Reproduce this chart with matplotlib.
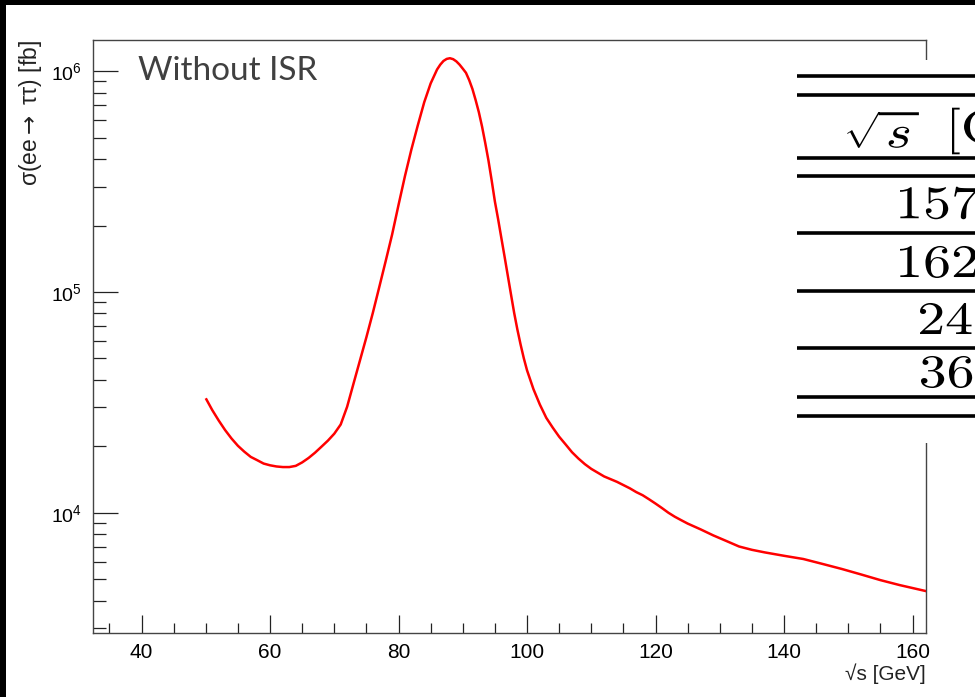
import numpy as np
import matplotlib
matplotlib.use("Agg")
import matplotlib.pyplot as plt
from matplotlib.patches import Rectangle, PathPatch
from matplotlib.ticker import MultipleLocator, LogLocator, NullFormatter
from matplotlib.textpath import TextPath
from matplotlib.font_manager import FontProperties
from matplotlib.transforms import Affine2D

# sqrt(s) [GeV] and cross section [fb]
sqrt_s = [50, 51, 52, 53, 54, 55, 56, 57, 58, 59, 60, 61, 62, 63, 64, 65, 66,
          67, 68, 69, 70, 71, 72, 73, 74, 75, 76, 77, 78, 79, 80, 81, 82, 83,
          84, 85, 86, 86.5, 87, 87.5, 88, 88.5, 89, 89.5, 90, 90.5, 91, 91.5,
          92, 92.5, 93, 93.5, 94, 94.5, 95, 95.5, 96, 96.5, 97, 97.5, 98,
          98.5, 99, 99.5, 100, 101, 102, 103, 104, 105, 106, 107, 108, 109,
          110, 112, 114, 116, 117, 118, 119, 120, 121, 122, 123, 124, 125,
          127, 129, 131, 133, 135, 137, 140, 143, 146, 149, 152, 155, 158,
          162.3]
sigma = [33000, 29200, 26200, 23700, 21700, 20100, 18900, 17900, 17300, 16700,
         16400, 16200, 16100, 16100, 16300, 16900, 17700, 18700, 19900, 21200,
         22800, 25100, 30200, 38500, 49000, 62400, 80400, 105200, 138000,
         182000, 248000, 335000, 442000, 569000, 724000, 881000, 1019000,
         1072000, 1114000, 1138000, 1146000, 1135000, 1109000, 1072000,
         1028000, 984000, 912000, 832000, 741000, 653000, 562000, 473000,
         394000, 320000, 257000, 214000, 176000, 145000, 119000, 97700, 80400,
         67600, 57800, 50100, 44200, 36300, 30900, 26900, 24300, 22100, 20400,
         18800, 17600, 16600, 15800, 14600, 13800, 12900, 12400, 12000, 11500,
         11000, 10500, 10000, 9590, 9250, 8930, 8410, 7890, 7450, 7030, 6790,
         6610, 6380, 6170, 5860, 5560, 5250, 4950, 4700, 4400]

# table pasted on the right (cut by the image border)
table_header = [r"$\sqrt{s}$", r"$[\mathrm{GeV}]$"]
table_rows = ["157.5", "162.5", "240", "365"]

plt.rcParams['font.family'] = ['Liberation Sans', 'DejaVu Sans']

W, H = 975, 697
fig = plt.figure(figsize=(W / 100, H / 100), dpi=100)
fig.patch.set_facecolor('white')

def px_box(x0, y0, x1, y1):
    # pixel box (top-left origin) -> figure fraction rect
    return [x0 / W, 1 - y1 / H, (x1 - x0) / W, (y1 - y0) / H]

ax = fig.add_axes(px_box(92.7, 40, 926, 633.3))
ax.plot(sqrt_s, sigma, color='#ff0000', lw=1.8, solid_capstyle='butt',
        solid_joinstyle='round')
ax.set_yscale('log')
ax.set_xlim(32.4, 162.1)
ax.set_ylim(2842, 1.386e6)

frame_col = '#444444'
for side in ax.spines.values():
    side.set_color(frame_col)
    side.set_linewidth(1.0)

ax.xaxis.set_major_locator(MultipleLocator(20))
ax.xaxis.set_minor_locator(MultipleLocator(5))
ax.yaxis.set_major_locator(LogLocator(base=10, numticks=10))
ax.yaxis.set_minor_locator(LogLocator(base=10, subs=np.arange(2, 10), numticks=20))
ax.yaxis.set_minor_formatter(NullFormatter())

ax.tick_params(axis='x', which='major', direction='in', length=13, width=0.9,
               color='#222222', labelsize=15, pad=7, top=False)
ax.tick_params(axis='x', which='minor', direction='in', length=7, width=0.9,
               color='#222222', top=False)
ax.tick_params(axis='y', which='major', direction='in', length=18, width=0.9,
               color='#222222', labelsize=14, pad=8, right=False)
ax.tick_params(axis='y', which='minor', direction='in', length=9.5, width=0.9,
               color='#222222', right=False)

ax.set_ylabel(r'σ(ee$\rightarrow$ ττ) [fb]', fontsize=16.5, loc='top', color='#222222')
ax.yaxis.set_label_coords(-0.058, 1.0)
ax.set_xlabel('√s [GeV]', fontsize=15, loc='right', color='#222222')
ax.xaxis.set_label_coords(1.0, -0.05)

ax.text(0.0544, 0.9326, 'Without ISR', transform=ax.transAxes, fontsize=24,
        family='Lato', color='#404040', va='baseline', ha='left')

# overlay in pixel coordinates: black border strips and the table
ov = fig.add_axes([0, 0, 1, 1], zorder=5)
ov.set_xlim(0, W)
ov.set_ylim(H, 0)
ov.axis('off')
ov.patch.set_alpha(0)

ov.add_patch(Rectangle((0, 0), W, 5, color='black', lw=0))
ov.add_patch(Rectangle((0, 0), 6, H, color='black', lw=0))

ov.add_patch(Rectangle((790, 60), W - 790, 443 - 60, color='white', lw=0))
rule_y = [76, 95, 158, 176, 233, 291, 348, 397, 416]
ov.hlines(rule_y, 797, W, colors='black', lw=2.6)

# the table picture is stretched sideways, so draw its text as scaled paths
cm_prop = FontProperties(family='serif', math_fontfamily='cm')

def table_text(s, x_left, y_mid, size=46.6, sx=1.2):
    tp = TextPath((0, 0), s, size=size, prop=cm_prop)
    ext = tp.get_extents()
    tr = (Affine2D().translate(-ext.x0, -(ext.y0 + ext.y1) / 2)
          .scale(sx, -1).translate(x_left, y_mid))
    ov.add_patch(PathPatch(tr.transform_path(tp), fc='black', lw=0))

table_text(table_header[0], 847, 130)
table_text(table_header[1], 952, 131)
row_y = [203, 262, 319, 372]
row_x = [900, 900, 920, 921]
for lab, xx, yy in zip(table_rows, row_x, row_y):
    table_text('$' + lab + '$', xx, yy)

plt.savefig('out.png', dpi=100)
